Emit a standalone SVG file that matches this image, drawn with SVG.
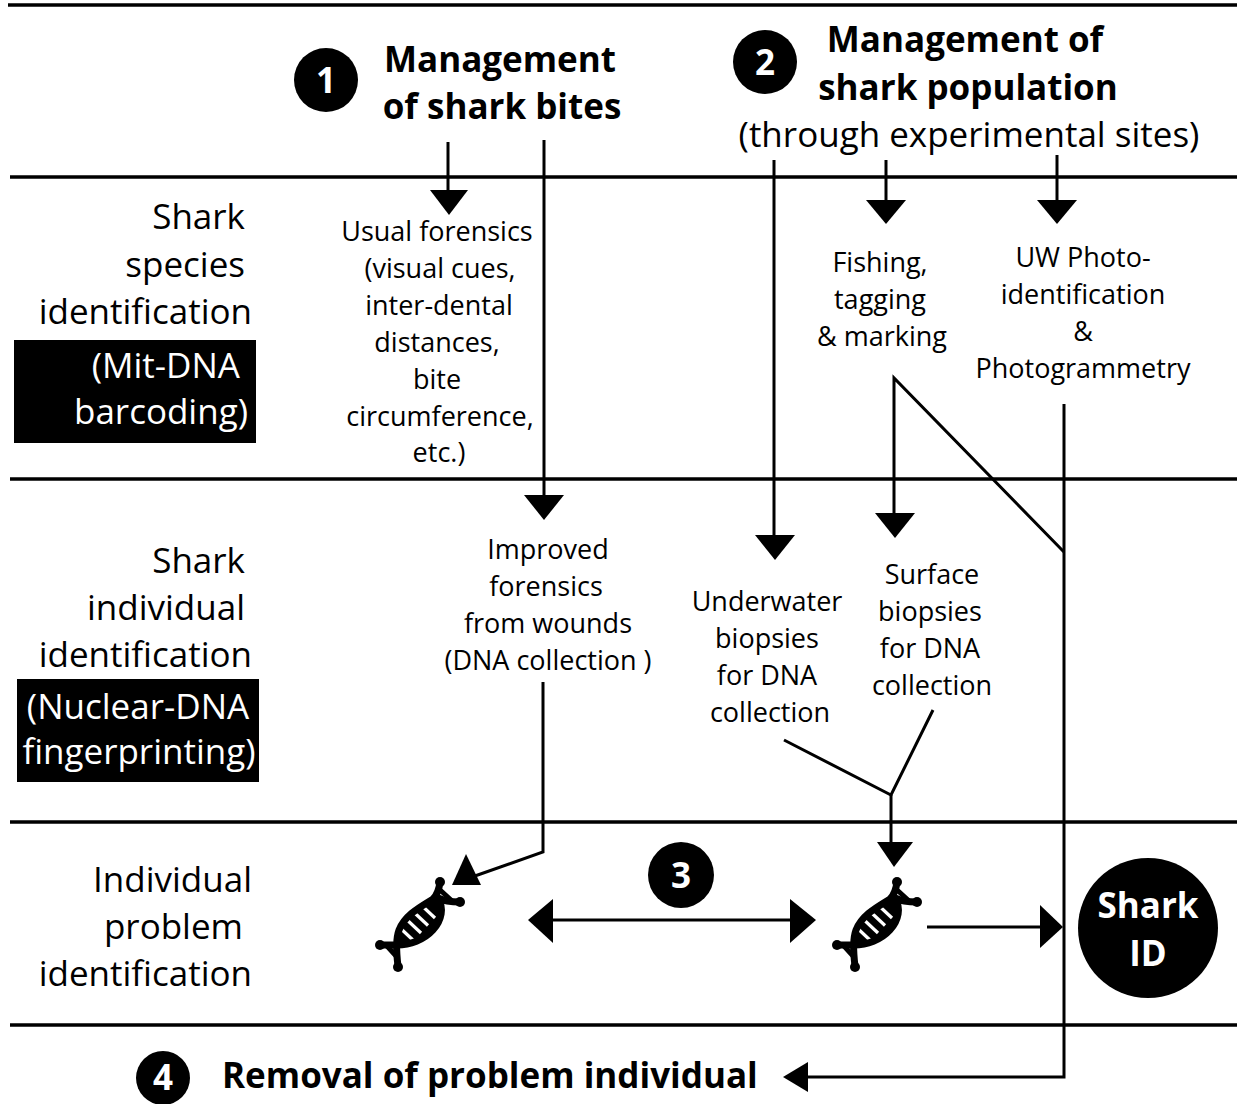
<svg xmlns="http://www.w3.org/2000/svg" width="1237" height="1104" viewBox="0 0 1237 1104">
<style>
.t{font-family:"Open Sans","DejaVu Sans",sans-serif;fill:#000}
.s{font-size:27px}
.l{font-size:35px}
.h{font-size:35px;font-weight:700}
.w{fill:#fff}
.m{text-anchor:middle}
.r{text-anchor:end}
.ln{stroke:#000;stroke-width:3;fill:none}
.hl{stroke:#000;stroke-width:3.5}
.ah{fill:#000}
</style>
<defs>
<g id="dna">
<path d="M438,898 C423,904 403,914 396,932 L395,946 C406,948 421,943 433,931 C444,919 445,908 438,898 Z" fill="#000"/>
<g stroke="#fff" stroke-width="3.2">
<line x1="398" y1="926" x2="414" y2="941"/>
<line x1="405" y1="918" x2="421" y2="933"/>
<line x1="412" y1="910.5" x2="428" y2="925.5"/>
<line x1="419" y1="903" x2="435" y2="918"/>
</g>
<g stroke="#000" stroke-width="7" fill="none" stroke-linecap="round" stroke-linejoin="round">
<path d="M440,882 C439,890 437,895 433,899 C420,907 405,915 399,930 C396,938 396,950 398,966"/>
<path d="M460,902 C452,902 444,901 438,898 C444,908 442,920 433,930 C424,940 410,945 397,945 L380,945"/>
</g>
<g stroke="#000" stroke-width="5" stroke-linecap="round">
<line x1="439" y1="889" x2="451" y2="900"/>
<line x1="387" y1="946" x2="397" y2="957"/>
</g>
<g fill="#000">
<circle cx="440" cy="882" r="5"/>
<circle cx="460" cy="902" r="5"/>
<circle cx="380" cy="945" r="5"/>
<circle cx="398" cy="967" r="5"/>
</g>
</g>
</defs>
<g id="lanes">
<line class="hl" x1="8" y1="5" x2="1237" y2="5" stroke-width="4"/>
<line class="hl" x1="10" y1="177" x2="1237" y2="177"/>
<line class="hl" x1="10" y1="479" x2="1237" y2="479"/>
<line class="hl" x1="10" y1="822" x2="1237" y2="822"/>
<line class="hl" x1="10" y1="1025" x2="1237" y2="1025"/>
</g>
<g id="row-labels">
<text class="t l r" x="245" y="229">Shark</text>
<text class="t l r" x="245" y="277">species</text>
<text class="t l r" x="252" y="324">identification</text>
<rect x="14" y="340" width="242" height="103" fill="#000"/>
<text class="t l r w" x="240" y="378">(Mit-DNA</text>
<text class="t l r w" x="248" y="424">barcoding)</text>
<text class="t l r" x="245" y="573">Shark</text>
<text class="t l r" x="245" y="620">individual</text>
<text class="t l r" x="252" y="667">identification</text>
<rect x="17" y="679" width="242" height="103" fill="#000"/>
<text class="t l m w" x="138" y="719">(Nuclear-DNA</text>
<text class="t l m w" x="139" y="764">fingerprinting)</text>
<text class="t l r" x="252" y="892">Individual</text>
<text class="t l r" x="243" y="939">problem</text>
<text class="t l r" x="252" y="986">identification</text>
</g>
<g id="node1">
<circle cx="326" cy="80" r="32" fill="#000"/>
<text class="t h m w" x="326" y="93">1</text>
<text class="t h m" x="500" y="72">Management</text>
<text class="t h m" x="502" y="119">of shark bites</text>
</g>
<g id="node2">
<circle cx="765" cy="62" r="32" fill="#000"/>
<text class="t h m w" x="765" y="75">2</text>
<text class="t h m" x="965" y="52">Management of</text>
<text class="t h m" x="968" y="100">shark population</text>
<text class="t l m" x="969" y="147">(through experimental sites)</text>
</g>
<g id="usual-forensics">
<text class="t s m" x="437" y="241">Usual forensics</text>
<text class="t s m" x="440" y="278">(visual cues,</text>
<text class="t s m" x="439" y="315">inter-dental</text>
<text class="t s m" x="437" y="352">distances,</text>
<text class="t s m" x="437" y="389">bite</text>
<text class="t s m" x="440" y="426">circumference,</text>
<text class="t s m" x="439" y="462">etc.)</text>
</g>
<g id="fishing">
<text class="t s m" x="880" y="272">Fishing,</text>
<text class="t s m" x="880" y="309">tagging</text>
<text class="t s m" x="882" y="346">&amp; marking</text>
</g>
<g id="uw-photo">
<text class="t s m" x="1083" y="267">UW Photo-</text>
<text class="t s m" x="1083" y="304">identification</text>
<text class="t s m" x="1083" y="341">&amp;</text>
<text class="t s m" x="1083" y="378">Photogrammetry</text>
</g>
<g id="improved-forensics">
<text class="t s m" x="548" y="559">Improved</text>
<text class="t s m" x="546" y="596">forensics</text>
<text class="t s m" x="548" y="633">from wounds</text>
<text class="t s m" x="548" y="670">(DNA collection )</text>
</g>
<g id="underwater">
<text class="t s m" x="767" y="611">Underwater</text>
<text class="t s m" x="767" y="648">biopsies</text>
<text class="t s m" x="767" y="685">for DNA</text>
<text class="t s m" x="770" y="722">collection</text>
</g>
<g id="surface">
<text class="t s m" x="932" y="584">Surface</text>
<text class="t s m" x="930" y="621">biopsies</text>
<text class="t s m" x="930" y="658">for DNA</text>
<text class="t s m" x="932" y="695">collection</text>
</g>
<g id="dna1"><use href="#dna"/></g>
<g id="dna2"><use href="#dna" transform="translate(457,0)"/></g>
<g id="node3">
<circle cx="681" cy="875" r="33" fill="#000"/>
<text class="t h m w" x="681" y="888">3</text>
</g>
<g id="shark-id">
<circle cx="1148" cy="928" r="70" fill="#000"/>
<text class="t h m w" x="1148" y="918">Shark</text>
<text class="t h m w" x="1148" y="966">ID</text>
</g>
<g id="node4">
<circle cx="163" cy="1078" r="27" fill="#000"/>
<text class="t h m w" x="163" y="1090">4</text>
<text class="t h" x="222" y="1088">Removal of problem individual</text>
</g>
<g id="connectors">
<line class="ln" x1="448" y1="142" x2="448" y2="192"/>
<polygon class="ah" points="430,190 468,190 449,215"/>
<line class="ln" x1="544" y1="140" x2="544" y2="497"/>
<polygon class="ah" points="524,495 564,495 544,520"/>
<line class="ln" x1="774" y1="160" x2="774" y2="537"/>
<polygon class="ah" points="755,535 795,535 775,560"/>
<line class="ln" x1="886" y1="160" x2="886" y2="202"/>
<polygon class="ah" points="866,200 906,200 886,224"/>
<line class="ln" x1="1057" y1="155" x2="1057" y2="202"/>
<polygon class="ah" points="1037,200 1077,200 1057,224"/>
<polyline class="ln" points="894,515 894,378 1064,552"/>
<polygon class="ah" points="875,513 915,513 895,538"/>
<polyline class="ln" points="1064,404 1064,1077 806,1077"/>
<polygon class="ah" points="808,1062 808,1092 783,1077"/>
<polyline class="ln" points="543,682 543,852 472,877"/>
<polygon class="ah" points="466,854 452,885 481,885"/>
<line class="ln" x1="551" y1="920" x2="792" y2="920"/>
<polygon class="ah" points="553,899 553,943 528,920"/>
<polygon class="ah" points="790,899 790,943 816,920"/>
<polyline class="ln" points="784,740 891,795 933,710"/>
<line class="ln" x1="891" y1="795" x2="891" y2="844"/>
<polygon class="ah" points="877,842 913,842 894,867"/>
<line class="ln" x1="927" y1="927" x2="1042" y2="927"/>
<polygon class="ah" points="1040,905 1040,948 1063,927"/>
</g>
</svg>
